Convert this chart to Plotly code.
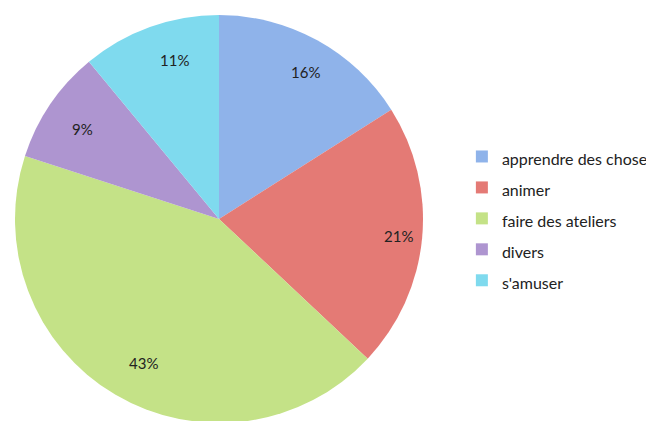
import math
import plotly.graph_objects as go

labels = ["apprendre des choses", "animer", "faire des ateliers", "divers", "s'amuser"]
values = [16, 21, 43, 9, 11]
colors = ["#8fb3ea", "#e47a75", "#c4e287", "#ae95d0", "#7fdaee"]

W, H = 654, 421
# page body has an 8px margin, so positions are given in figure coordinates
CX, TOP, R = 211, 7, 204  # pie centre x, pie top, radius (px)

dom_x = [(CX - R) / W, (CX + R) / W]
dom_y = [1 - (TOP + 2 * R) / H, 1 - TOP / H]

fig = go.Figure(go.Pie(
    labels=[f"<span style='font-size:16px'>{l}</span>" for l in labels],
    values=values,
    sort=False,
    direction="clockwise",
    rotation=0,
    marker=dict(colors=colors, line=dict(width=0)),
    textinfo="none",
    domain=dict(x=dom_x, y=dom_y),
    hoverinfo="label+percent",
))

# percentage labels along each slice's mid-angle, near the rim (like Excel)
r_eff = min(dom_x[1] - dom_x[0], (dom_y[1] - dom_y[0]) * H / W) * W / 2
cy = H * (1 - dom_y[0]) - (dom_y[1] - dom_y[0]) * H / 2
cx = W * (dom_x[0] + dom_x[1]) / 2
total = sum(values)
cum = 0
for v in values:
    mid = 2 * math.pi * (cum + v / 2) / total
    cum += v
    px = cx + 0.885 * r_eff * math.sin(mid)
    py = cy - 0.885 * r_eff * math.cos(mid)
    fig.add_annotation(
        x=px / W, y=1 - py / H, xref="paper", yref="paper",
        text=f"{round(100 * v / total)}%", showarrow=False,
        font=dict(family="Lato", size=15, color="#222222"),
    )

fig.update_layout(
    width=W, height=H,
    margin=dict(l=0, r=0, t=0, b=0),
    paper_bgcolor="white",
    plot_bgcolor="white",
    showlegend=True,
    legend=dict(
        x=0.694, y=0.5, xanchor="left", yanchor="middle",
        font=dict(family="Lato", size=21.5, color="#222222"),
        bgcolor="rgba(0,0,0,0)",
    ),
)

fig.write_html("out.html")
